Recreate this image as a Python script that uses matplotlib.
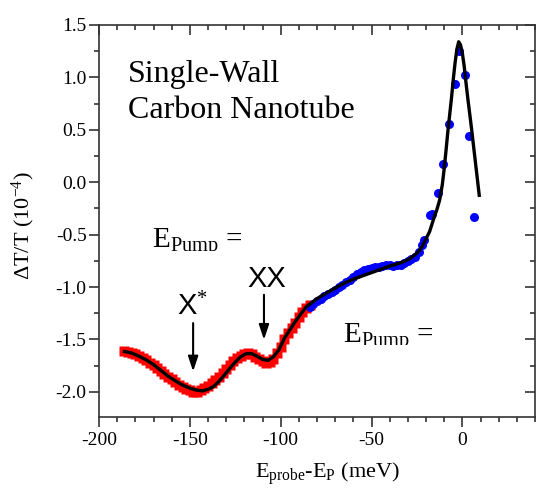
import matplotlib
matplotlib.use("Agg")
import matplotlib.pyplot as plt
from matplotlib.patches import Rectangle
from matplotlib.ticker import MultipleLocator, FormatStrFormatter

# measured points, pump below the band edge (red squares)
red_x = [-186, -184, -182, -180, -178, -176, -174, -172, -170, -168, -166, -164,
         -162, -160, -158, -156, -154, -152, -150, -148, -146, -144, -142, -140,
         -138, -136, -134, -132, -130, -128, -126, -124, -122, -120, -118, -116,
         -114, -112, -110, -108, -106, -104, -102, -100, -98, -96, -94, -92, -90,
         -88, -86, -84]
red_y = [-1.61, -1.62, -1.63, -1.64, -1.66, -1.68, -1.70, -1.72, -1.745, -1.77,
         -1.80, -1.83, -1.855, -1.88, -1.905, -1.93, -1.95, -1.97, -1.985, -2.0,
         -2.0, -1.985, -1.96, -1.94, -1.915, -1.89, -1.86, -1.82, -1.78, -1.74,
         -1.71, -1.68, -1.655, -1.64, -1.63, -1.64, -1.665, -1.69, -1.71, -1.72,
         -1.715, -1.69, -1.63, -1.57, -1.50, -1.44, -1.39, -1.34, -1.29, -1.24,
         -1.20, -1.17]

# measured points, pump at the band edge (blue circles)
blue_x = [-84, -82, -80, -78, -76, -74, -72, -70, -68, -66, -64, -62, -60, -58,
          -56, -54, -52, -50, -48, -46, -44, -42, -40, -38, -36, -34, -32, -30,
          -28, -26, -24, -22, -21, -17.6, -16.5, -13.2, -10.4, -7.1, -4.0, -2.0,
          1.5, 3.5, 6.6]
blue_y = [-1.19, -1.16, -1.13, -1.11, -1.09, -1.07, -1.05, -1.03, -1.00, -0.98,
          -0.955, -0.93, -0.905, -0.88, -0.86, -0.84, -0.83, -0.82, -0.81, -0.805,
          -0.80, -0.79, -0.79, -0.795, -0.79, -0.785, -0.77, -0.75, -0.73, -0.71,
          -0.67, -0.60, -0.55, -0.31, -0.30, -0.10, 0.17, 0.56, 0.94, 1.25,
          1.02, 0.44, -0.33]

# fitted curve (black line)
fit_x = [-186, -182, -178, -174, -170, -166, -162, -158, -154, -150, -146, -143,
         -140, -137, -134, -131, -128, -125, -122, -119, -116, -113, -110, -107,
         -104, -101, -98, -95, -92, -89, -86, -83, -80, -76, -72, -68, -64, -60,
         -56, -52, -48, -44, -40, -36, -32, -29, -26, -24, -22, -20, -18, -16,
         -14, -12.5, -11, -10, -9, -8, -7, -6, -5, -4, -3, -2, -1, 0, 1, 2, 3,
         4, 5, 6, 7, 8, 9.3]
fit_y = [-1.615, -1.63, -1.66, -1.695, -1.74, -1.795, -1.85, -1.895, -1.935,
         -1.965, -1.985, -1.99, -1.975, -1.95, -1.90, -1.84, -1.775, -1.715,
         -1.665, -1.635, -1.635, -1.66, -1.69, -1.70, -1.665, -1.60, -1.49,
         -1.41, -1.33, -1.26, -1.19, -1.15, -1.11, -1.07, -1.03, -0.99, -0.955,
         -0.925, -0.90, -0.875, -0.85, -0.825, -0.80, -0.78, -0.755, -0.73,
         -0.69, -0.66, -0.61, -0.54, -0.47, -0.36, -0.26, -0.17, -0.02, 0.13,
         0.30, 0.48, 0.64, 0.80, 0.98, 1.14, 1.27, 1.34, 1.31, 1.23, 1.11, 0.95,
         0.80, 0.66, 0.52, 0.37, 0.22, 0.07, -0.125]

plt.rcParams["font.family"] = "Liberation Serif"
plt.rcParams["mathtext.fontset"] = "custom"
plt.rcParams["mathtext.rm"] = "Liberation Serif"
plt.rcParams["mathtext.it"] = "Liberation Serif:italic"
plt.rcParams["axes.unicode_minus"] = False

AXIS_GREY = "#333333"
RECT = [0.1844, 0.1524, 0.8119, 0.7968]
XLIM = (-200, 40)
YLIM = (-2.24, 1.5)


def set_locators(a):
    a.xaxis.set_major_locator(MultipleLocator(50))
    a.xaxis.set_minor_locator(MultipleLocator(10))
    a.yaxis.set_major_locator(MultipleLocator(0.5))
    a.yaxis.set_minor_locator(MultipleLocator(0.25))


fig = plt.figure(figsize=(5.37, 4.92), dpi=100)

# separate overlay axes that only carries the inward top/right ticks
ax_in = fig.add_axes(RECT, frameon=False)
ax_in.set_xlim(XLIM)
ax_in.set_ylim(YLIM)
set_locators(ax_in)
ax_in.tick_params(which="both", direction="in", bottom=False, left=False,
                  top=True, right=True, labelbottom=False, labelleft=False,
                  width=1.2, color=AXIS_GREY)
ax_in.tick_params(which="major", length=7)
ax_in.tick_params(which="minor", length=3.5)

ax = fig.add_axes(RECT)
ax.patch.set_alpha(0)

ax.plot(red_x, red_y, linestyle="none", marker="s", ms=6.5, color="#ff0000",
        mec="none")
ax.plot(blue_x, blue_y, linestyle="none", marker="o", ms=6.5, color="#0000ff",
        mec="none")
ax.plot(fit_x, fit_y, color="black", lw=2.4)

ax.set_xlim(XLIM)
ax.set_ylim(YLIM)
set_locators(ax)
ax.set_xticks([-200, -150, -100, -50, 0])
ax.yaxis.set_major_formatter(FormatStrFormatter("%.1f"))

# outward ticks on left/bottom
ax.tick_params(which="both", direction="out", top=False, right=False,
               labelsize=14, width=1.2, color=AXIS_GREY)
ax.tick_params(which="major", length=7)
ax.tick_params(which="minor", length=3.5)
ax.tick_params(axis="y", pad=2)
ax.tick_params(axis="x", pad=4)
for spine in ax.spines.values():
    spine.set_color(AXIS_GREY)
    spine.set_linewidth(1.2)

# axis labels
fig.text(0.0438, 0.5407, r"$\Delta$T/T (10$^{-4}$)", rotation=90,
         ha="center", va="center", fontsize=16)
fig.text(0.61, 0.0285, r"E$_{\mathrm{probe}}$-E$_{\mathrm{P}}$ (meV)",
         ha="center", va="baseline", fontsize=16)

# sample name
ax.text(-184.1, 0.959, "Single-Wall", fontsize=23, va="baseline")
ax.text(-184.1, 0.611, "Carbon Nanotube", fontsize=23, va="baseline")

# pump labels, bottom half cut off like the original
for x0, y0, y_cut in [(-170.9, -0.629, -0.652), (-65.8, -1.534, -1.555)]:
    t = ax.text(x0, y0, r"E$_{\mathrm{Pump}}$ =", fontsize=21, va="baseline",
                clip_on=True)
    clip = Rectangle((x0 - 5, y_cut), 70, 1.0, transform=ax.transData)
    t.set_clip_path(clip)

# peak labels with arrows
arrow = dict(arrowstyle="-|>,head_length=0.45,head_width=0.15",
             mutation_scale=20, lw=1.5, color="black", shrinkA=0, shrinkB=0)
ax.text(-148.4, -1.274, r"X$^{*}$", fontsize=21, ha="center", va="baseline",
        family="Liberation Sans")
ax.annotate("", xy=(-148.2, -1.805), xytext=(-148.2, -1.344),
            arrowprops=arrow)
ax.text(-107.9, -0.995, "XX", fontsize=21, ha="center", va="baseline",
        family="Liberation Sans")
ax.annotate("", xy=(-109.2, -1.503), xytext=(-109.2, -1.074),
            arrowprops=arrow)

fig.savefig("out.png", dpi=100)
